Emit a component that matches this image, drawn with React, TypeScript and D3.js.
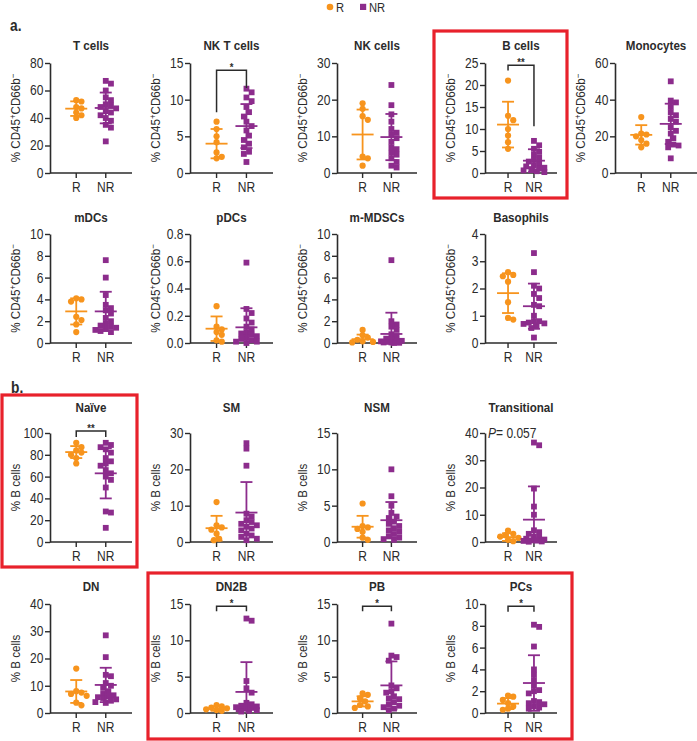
import React, { useEffect, useRef } from 'react';
import * as d3 from 'd3';

const ORANGE = '#F7941D';
const PURPLE = '#8C2C8C';
const RED = '#E8212B';
const INK = '#2b2b2b';
const FONT = '"Liberation Sans", Arial, sans-serif';
const SX = 0.86; // horizontal squeeze to mimic the condensed face

const groups = ['R', 'NR'];

const titles = ['T cells', 'NK T cells', 'NK cells', 'B cells', 'Monocytes',
  'mDCs', 'pDCs', 'm-MDSCs', 'Basophils',
  'Naïve', 'SM', 'NSM', 'Transitional',
  'DN', 'DN2B', 'PB', 'PCs'];
const yMax = [80, 15, 30, 25, 60, 10, 0.8, 10, 4, 100, 30, 15, 40, 40, 15, 15, 10];
const yStep = [20, 5, 10, 5, 20, 2, 0.2, 2, 1, 20, 10, 5, 10, 10, 5, 5, 2];
const cd45Panels = 9; // first 9 panels use the CD45+CD66b- label, the rest % B cells

const rValues = [
  [53, 52, 48, 44, 42, 40, 47],
  [7.0, 6.0, 5.0, 4.2, 2.8, 2.2, 2.0],
  [19, 17.5, 15.5, 14.5, 4.5, 4.0, 2.0],
  [21, 13, 12, 10, 8.5, 7, 5.5],
  [30.5, 21.5, 21, 20, 18, 16, 14],
  [4.1, 4.0, 3.8, 2.4, 2.1, 1.7, 1.0],
  [0.27, 0.12, 0.10, 0.08, 0.06, 0.02, 0.01],
  [1.2, 0.7, 0.5, 0.3, 0.15, 0.1, 0.05],
  [2.6, 2.5, 2.45, 2.25, 1.5, 0.92, 0.86],
  [91, 87, 84, 82, 80, 77, 72],
  [11, 4.6, 4.0, 3.4, 2.3, 0.9, 0.5],
  [5.3, 2.2, 2.0, 1.8, 1.4, 0.6, 0.3],
  [4.2, 3.0, 2.5, 2.0, 1.5, 0.8, 0.3],
  [16.3, 8.0, 7.5, 7.0, 6.3, 3.8, 2.8],
  [1.1, 0.9, 0.75, 0.65, 0.5, 0.4, 0.3],
  [2.7, 2.5, 2.0, 1.6, 1.1, 0.9, 0.7],
  [1.6, 1.5, 1.2, 0.9, 0.6, 0.4, 0.3],
];

const nrValues = [
  [67, 65, 60, 55, 53, 50, 49, 48, 47, 45, 44, 42, 40, 38, 35, 33, 23],
  [11.5, 11.0, 10.3, 9.8, 9.0, 8.3, 7.7, 7.0, 6.4, 5.8, 5.1, 4.5, 4.0, 3.5, 2.9, 2.6, 1.5],
  [24, 18.5, 16, 14, 12, 11, 10.5, 9.5, 8.5, 7, 6.5, 5, 4, 3, 2, 1.5, 5.5],
  [7.3, 6.3, 5.5, 4.8, 4.2, 3.5, 3.0, 2.6, 2.2, 1.8, 1.5, 1.2, 0.9, 0.6, 0.4, 0.2, 1.0],
  [50, 39.5, 38.5, 36, 33, 31.5, 29.5, 28, 25, 23, 21.5, 19, 17, 15.5, 15, 8, 14],
  [7.6, 6.0, 4.4, 3.5, 3.2, 3.0, 2.7, 2.3, 2.0, 1.8, 1.6, 1.5, 1.4, 1.2, 1.1, 1.0, 1.3],
  [0.59, 0.25, 0.22, 0.18, 0.15, 0.12, 0.10, 0.08, 0.07, 0.06, 0.05, 0.04, 0.03, 0.02, 0.01, 0.0, 0.01],
  [7.6, 2.0, 1.7, 1.5, 1.2, 0.8, 0.6, 0.4, 0.3, 0.2, 0.15, 0.1, 0.1, 0.05, 0.05, 0.02, 0.0],
  [3.3, 2.6, 2.1, 2.0, 1.8, 1.65, 1.4, 1.35, 1.0, 0.8, 0.75, 0.72, 0.7, 0.65, 0.55, 0.2, 0.8],
  [91, 89, 87, 85, 82, 72, 77, 74, 70, 66, 63, 57, 50, 28, 27, 13, 60],
  [27.2, 25.7, 21, 7.8, 7, 6, 5.5, 5, 4.6, 4.2, 3.7, 3.2, 2.3, 1.8, 1.4, 0.9, 0.5],
  [10, 6.3, 5, 4, 3.5, 3.3, 2.8, 2.5, 2.2, 1.9, 1.6, 1.4, 1.1, 0.8, 0.6, 0.4, 0.3],
  [36.5, 35.5, 19.6, 13, 10, 4.3, 3.6, 3.0, 2.0, 1.5, 1.2, 0.9, 0.6, 0.5, 0.4, 0.2, 0.1],
  [28.5, 20.5, 14, 13.5, 11, 10, 9.2, 8, 7, 6.5, 6, 5.5, 5, 4.5, 4, 3.7, 5.8],
  [13.0, 12.7, 4.4, 3.4, 2.8, 1.4, 1.2, 1.0, 0.9, 0.8, 0.7, 0.6, 0.5, 0.4, 0.3, 0.2, 0.8],
  [12.3, 7.9, 7.7, 7.2, 3.8, 3.4, 2.8, 2.3, 1.9, 1.5, 1.2, 1.0, 0.8, 0.6, 0.4, 2.0, 3.0],
  [8.1, 7.9, 6.1, 4.0, 3.5, 3.0, 2.1, 2.0, 1.8, 1.1, 0.9, 0.8, 0.6, 0.5, 0.4, 1.0, 2.5],
];

// mean and SD as drawn
const rMean = [46.8, 4.0, 10.5, 11.0, 20.8, 2.9, 0.105, 0.35, 1.83, 82.5, 3.8, 2.1, 1.8, 7.9, 0.6, 1.6, 0.86];
const rSd = [5.3, 2.0, 6.8, 5.2, 5.3, 1.2, 0.09, 0.42, 0.73, 5.5, 3.4, 1.5, 1.4, 4.2, 0.3, 0.7, 0.5];
const nrMean = [47.3, 6.4, 9.8, 2.8, 26.8, 2.9, 0.115, 0.83, 1.35, 63, 8.1, 3.0, 8.2, 10.3, 2.9, 3.8, 2.75];
const nrSd = [11.2, 3.0, 6.3, 2.6, 11, 1.8, 0.14, 1.95, 0.83, 23, 8.4, 2.5, 12.2, 6.3, 4.1, 3.3, 2.55];

// significance brackets
const sigPanel = [1, 3, 9, 14, 15, 16];
const sigLabel = ['*', '**', '**', '*', '*', '*'];
const sigTop = [14, 24.5, 101.8, 14.7, 14.7, 9.8];
const sigLeftEnd = [8.3, 23.3, 96.3, 14, 14, 9.3];
const sigRightEnd = [11.6, 10.6, 96.3, 14, 14, 9.3];

// layout
const panelRow = [0, 0, 0, 0, 0, 1, 1, 1, 1, 2, 2, 2, 2, 3, 3, 3, 3];
const panelCol = [0, 1, 2, 3, 4, 0, 1, 2, 3, 0, 1, 2, 3, 0, 1, 2, 3];
const colAxisX = [50, 190, 337, 485, 615];
const colWidth = [82, 83, 80, 72, 82];
const rowTop = [63, 234, 433, 604];
const rowBottom = [173, 343, 542, 713];
const rowTitleGap = [13, 12, 21, 13];

function label(g, x, y, s, size, weight = 400, anchor = 'start') {
  return g.append('text')
    .attr('transform', `translate(${x},${y}) scale(${SX},1)`)
    .attr('text-anchor', anchor)
    .attr('font-family', FONT)
    .attr('font-size', size)
    .attr('font-weight', weight)
    .attr('fill', INK)
    .text(s);
}

function swarm(vals, y, cx, size) {
  const placed = [];
  const out = new Array(vals.length);
  const order = vals.map((v, i) => i).sort((a, b) => vals[b] - vals[a]);
  order.forEach(i => {
    const py = y(vals[i]);
    let best = cx, bestD = -1;
    for (let k = 0; k < 9; k++) {
      const off = k === 0 ? 0 : (k % 2 ? 1 : -1) * Math.ceil(k / 2) * 2.6;
      const cand = cx + off;
      const d = placed.length ? d3.min(placed, p => Math.hypot(p[0] - cand, p[1] - py)) : 99;
      if (d >= size) { best = cand; bestD = d; break; }
      if (d > bestD) { best = cand; bestD = d; }
    }
    placed.push([best, py]);
    out[i] = [best, py];
  });
  return out;
}

function drawPanel(svg, i) {
  const row = panelRow[i], col = panelCol[i];
  const x0 = colAxisX[col], w = colWidth[col];
  const top = rowTop[row], bottom = rowBottom[row];
  const y = d3.scaleLinear().domain([0, yMax[i]]).range([bottom, top]);
  const x = d3.scalePoint().domain(groups).range([x0 + w * 0.32, x0 + w * 0.68]);
  const g = svg.append('g');

  const ticks = d3.range(0, yMax[i] + yStep[i] / 2, yStep[i]);
  const fmt = yStep[i] < 1 ? d3.format('.1f') : d3.format('d');
  const yAxis = d3.axisLeft(y).tickValues(ticks).tickSize(5).tickSizeOuter(0).tickFormat(fmt);
  const ya = g.append('g').attr('transform', `translate(${x0},0)`).call(yAxis);
  ya.select('.domain').attr('stroke', INK).attr('stroke-width', 1.6);
  ya.selectAll('.tick line').attr('stroke', INK).attr('stroke-width', 1.4);
  ya.selectAll('.tick text')
    .attr('font-family', FONT).attr('font-size', 14).attr('fill', INK)
    .attr('x', -6.5 / SX).attr('transform', `scale(${SX},1)`);

  // x axis
  g.append('line')
    .attr('x1', x0).attr('x2', x0 + w).attr('y1', bottom).attr('y2', bottom)
    .attr('stroke', INK).attr('stroke-width', 1.6);
  groups.forEach(k => {
    g.append('line')
      .attr('x1', x(k)).attr('x2', x(k)).attr('y1', bottom).attr('y2', bottom + 5)
      .attr('stroke', INK).attr('stroke-width', 1.4);
    label(g, x(k), bottom + 19, k, 14, 400, 'middle');
  });

  // title
  label(g, x0 + w / 2, top - rowTitleGap[row], titles[i], 13.5, 700, 'middle');

  // y label
  const yl = g.append('text')
    .attr('transform', `translate(${x0 - 30},${(top + bottom) / 2}) rotate(-90) scale(${SX},1)`)
    .attr('text-anchor', 'middle')
    .attr('font-family', FONT).attr('font-size', 13.5).attr('fill', INK);
  if (i < cd45Panels) {
    yl.append('tspan').text('% CD45');
    yl.append('tspan').attr('dy', -4.5).attr('font-size', 9).text('+');
    yl.append('tspan').attr('dy', 4.5).text('CD66b');
    yl.append('tspan').attr('dy', -4.5).attr('font-size', 9).text('−');
  } else {
    yl.text('% B cells');
  }

  // points
  const rPts = swarm(rValues[i], y, x('R'), 5.2);
  const nrPts = swarm(nrValues[i], y, x('NR'), 5.2);
  g.selectAll('.rpt').data(rPts).enter().append('circle')
    .attr('cx', d => d[0]).attr('cy', d => d[1]).attr('r', 3.1).attr('fill', ORANGE);
  g.selectAll('.nrpt').data(nrPts).enter().append('rect')
    .attr('x', d => d[0] - 2.9).attr('y', d => d[1] - 2.9)
    .attr('width', 5.8).attr('height', 5.8).attr('fill', PURPLE);

  // mean +/- SD
  const stats = [[rMean[i], rSd[i], ORANGE, x('R')], [nrMean[i], nrSd[i], PURPLE, x('NR')]];
  stats.forEach(([m, sd, color, cx]) => {
    const lo = Math.max(0, m - sd), hi = m + sd;
    g.append('line').attr('x1', cx).attr('x2', cx).attr('y1', y(lo)).attr('y2', y(hi))
      .attr('stroke', color).attr('stroke-width', 1.8);
    g.append('line').attr('x1', cx - 6).attr('x2', cx + 6).attr('y1', y(hi)).attr('y2', y(hi))
      .attr('stroke', color).attr('stroke-width', 1.8);
    if (m - sd > 0) {
      g.append('line').attr('x1', cx - 6).attr('x2', cx + 6).attr('y1', y(lo)).attr('y2', y(lo))
        .attr('stroke', color).attr('stroke-width', 1.8);
    }
    g.append('line').attr('x1', cx - 11).attr('x2', cx + 11).attr('y1', y(m)).attr('y2', y(m))
      .attr('stroke', color).attr('stroke-width', 1.8);
  });

  // bracket
  const s = sigPanel.indexOf(i);
  if (s >= 0) {
    const xl = x('R'), xr = x('NR');
    g.append('path')
      .attr('d', `M${xl},${y(sigTop[s])}`.replace('M', `M${xl},${y(sigLeftEnd[s])}L`) + `H${xr}V${y(sigRightEnd[s])}`)
      .attr('fill', 'none').attr('stroke', INK).attr('stroke-width', 1.5);
    label(g, (xl + xr) / 2, y(sigTop[s]) + 1, sigLabel[s], 11, 700, 'middle');
  }

  if (titles[i] === 'Transitional') {
    const t = label(g, x0 + 3, top + 5, '', 14);
    t.append('tspan').attr('font-style', 'italic').text('P');
    t.append('tspan').text('= 0.057');
  }
}

export default function App() {
  const ref = useRef(null);
  useEffect(() => {
    const svg = d3.select(ref.current);
    svg.selectAll('*').remove();

    // legend
    svg.append('circle').attr('cx', 330).attr('cy', 7).attr('r', 3.3).attr('fill', ORANGE);
    label(svg, 336, 11.5, 'R', 13);
    svg.append('rect').attr('x', 360).attr('y', 3.8).attr('width', 6.2).attr('height', 6.2).attr('fill', PURPLE);
    label(svg, 369, 11.5, 'NR', 13);

    label(svg, 10, 31, 'a.', 16, 700);
    label(svg, 11, 393, 'b.', 16, 700);

    titles.forEach((t, i) => drawPanel(svg, i));

    // highlight boxes
    const boxes = [[434, 31, 133, 167], [2, 395, 135, 172], [148, 573, 424, 166]];
    boxes.forEach(([bx, by, bw, bh]) => {
      svg.append('rect').attr('x', bx).attr('y', by).attr('width', bw).attr('height', bh)
        .attr('fill', 'none').attr('stroke', RED).attr('stroke-width', 3.2);
    });
  }, []);

  return (
    <svg ref={ref} width={697} height={741} style={{ position: 'absolute', left: 0, top: 0, background: '#fff' }} />
  );
}
